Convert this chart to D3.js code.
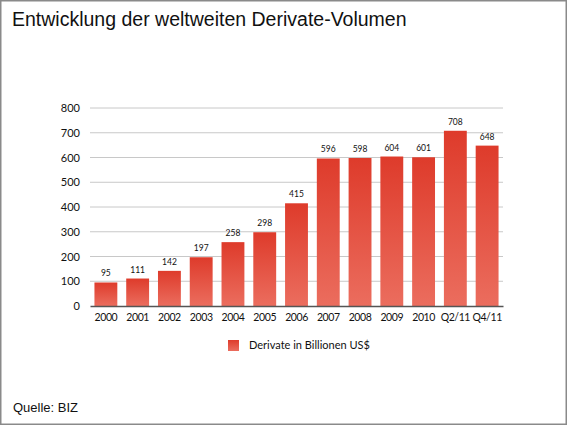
<!DOCTYPE html>
<html>
<head>
<meta charset="utf-8">
<script src="https://cdn.jsdelivr.net/npm/d3@7"></script>
<style>
  body { margin: 0; background: #fff; }
  svg { display: block; }
</style>
</head>
<body>
<div class="chart"></div>
<script>
const categories = ['2000', '2001', '2002', '2003', '2004', '2005', '2006', '2007', '2008', '2009', '2010', 'Q2/11', 'Q4/11'];
const values = [95, 111, 142, 197, 258, 298, 415, 596, 598, 604, 601, 708, 648];
const yTicks = [0, 100, 200, 300, 400, 500, 600, 700, 800];
const seriesName = 'Derivate in Billionen US$';

const width = 567, height = 425;
const margin = {left: 90, right: 64, top: 108, bottom: 119};

const svg = d3.select('.chart').append('svg')
    .attr('width', width)
    .attr('height', height);

// frame
svg.append('rect')
    .attr('x', 0.75).attr('y', 0.75)
    .attr('width', width - 1.5).attr('height', height - 1.5)
    .attr('fill', '#fff')
    .attr('stroke', '#8a8a8a')
    .attr('stroke-width', 1.5);

const defs = svg.append('defs');
const grad = defs.append('linearGradient')
    .attr('id', 'barGrad')
    .attr('x1', 0).attr('y1', 0).attr('x2', 0).attr('y2', 1);
grad.append('stop').attr('offset', '0%').attr('stop-color', '#de3b2b');
grad.append('stop').attr('offset', '100%').attr('stop-color', '#eb6d5e');

const x = d3.scaleBand()
    .domain(categories)
    .range([margin.left, width - margin.right])
    .paddingInner(0.28)
    .paddingOuter(0.14);

const y = d3.scaleLinear()
    .domain([0, 800])
    .range([height - margin.bottom, margin.top]);

// gridlines
svg.append('g')
    .selectAll('line')
    .data(yTicks.slice(1))
    .enter()
    .append('line')
    .attr('x1', margin.left)
    .attr('x2', width - margin.right)
    .attr('y1', d => y(d))
    .attr('y2', d => y(d))
    .attr('stroke', '#c8c8c8')
    .attr('stroke-width', 1);

// y axis labels
const yAxis = svg.append('g')
    .attr('transform', `translate(${margin.left},0)`)
    .call(d3.axisLeft(y).tickValues(yTicks).tickSize(0).tickPadding(10));
yAxis.select('.domain').remove();
yAxis.selectAll('text')
    .attr('fill', '#111')
    .style('font-family', 'Lato, "DejaVu Sans", sans-serif')
    .style('font-size', '11px');

// bars
svg.append('g')
    .selectAll('rect')
    .data(values)
    .enter()
    .append('rect')
    .attr('x', (d, i) => x(categories[i]))
    .attr('y', d => y(d))
    .attr('width', x.bandwidth())
    .attr('height', d => y(0) - y(d))
    .attr('fill', 'url(#barGrad)');

// value labels
svg.append('g')
    .selectAll('text')
    .data(values)
    .enter()
    .append('text')
    .attr('x', (d, i) => x(categories[i]) + x.bandwidth() / 2)
    .attr('y', d => y(d) - 6)
    .attr('text-anchor', 'middle')
    .style('font-family', 'Lato, "DejaVu Sans", sans-serif')
    .style('font-size', '8.5px')
    .attr('fill', '#111')
    .text(d => d);

// x axis
const xAxis = svg.append('g')
    .attr('transform', `translate(0,${y(0)})`)
    .call(d3.axisBottom(x).tickSize(0).tickPadding(8));
xAxis.select('.domain')
    .attr('stroke', '#555')
    .attr('stroke-width', 1.5);
xAxis.selectAll('text')
    .attr('fill', '#111')
    .style('font-family', 'Lato, "DejaVu Sans", sans-serif')
    .style('font-size', '10.5px')
    .style('letter-spacing', '-0.4px');

// legend
const legend = svg.append('g').attr('transform', 'translate(228,340)');
legend.append('rect')
    .attr('width', 11).attr('height', 11)
    .attr('fill', 'url(#barGrad)');
legend.append('text')
    .attr('x', 21).attr('y', 6)
    .attr('dominant-baseline', 'middle')
    .style('font-family', 'Lato, "DejaVu Sans", sans-serif')
    .style('font-size', '11px')
    .attr('fill', '#111')
    .text(seriesName);

// title
svg.append('text')
    .attr('x', 12).attr('y', 26)
    .style('font-family', '"Liberation Sans", Arial, sans-serif')
    .style('font-size', '19.5px')
    .attr('fill', '#111')
    .text('Entwicklung der weltweiten Derivate-Volumen');

// source
svg.append('text')
    .attr('x', 13).attr('y', 412)
    .style('font-family', '"Liberation Sans", Arial, sans-serif')
    .style('font-size', '13px')
    .attr('fill', '#111')
    .text('Quelle: BIZ');
</script>
</body>
</html>
